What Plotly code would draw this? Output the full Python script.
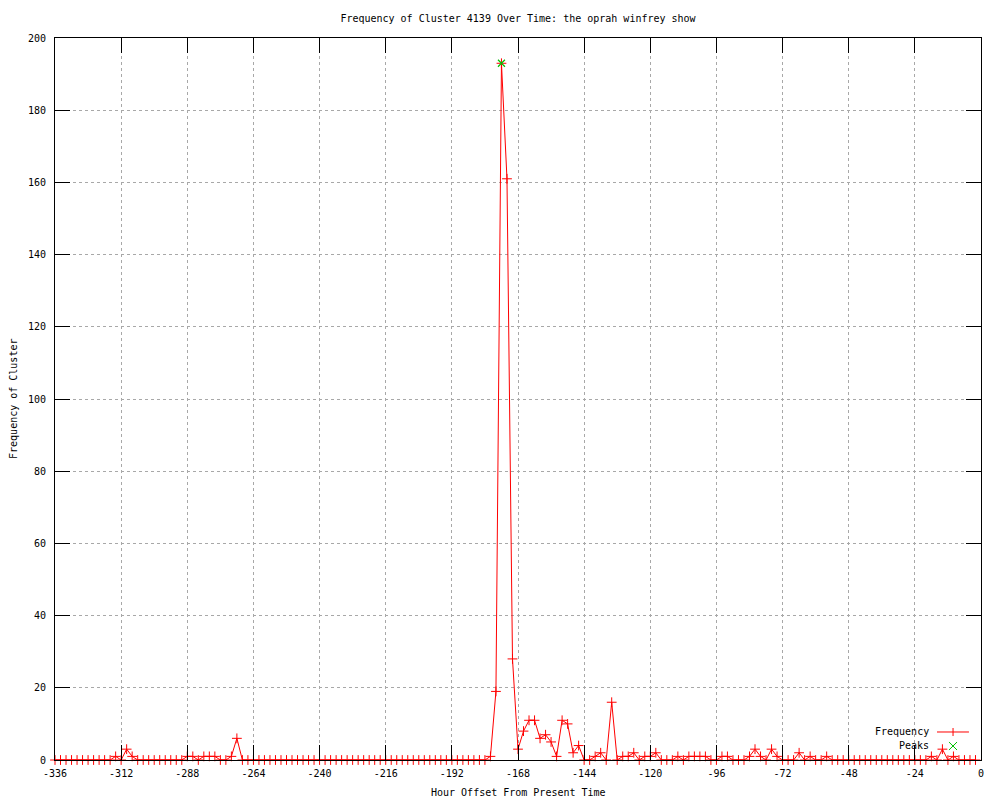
import plotly.graph_objects as go

# Hour offsets (every 2 hours) and cluster frequencies
hours = list(range(-336, 0, 2))
frequency = [
    0, 0, 0, 0, 0, 0, 0, 0, 0, 0, 0, 1,        # -336 .. -314
    0, 3, 1, 0, 0, 0, 0, 0, 0, 0, 0, 0,        # -312 .. -290
    1, 1, 0, 1, 1, 1, 0, 0, 1, 6, 0, 0,        # -288 .. -266
    0, 0, 0, 0, 0, 0, 0, 0, 0, 0, 0, 0,        # -264 .. -242
    0, 0, 0, 0, 0, 0, 0, 0, 0, 0, 0, 0,        # -240 .. -218
    0, 0, 0, 0, 0, 0, 0, 0, 0, 0, 0, 0,        # -216 .. -194
    0, 0, 0, 0, 0, 0, 0, 1, 19, 193, 161, 28,  # -192 .. -170
    3, 8, 11, 11, 6, 7, 5, 1, 11, 10, 2, 4,    # -168 .. -146
    0, 0, 1, 2, 0, 16, 0, 1, 1, 2, 0, 1,       # -144 .. -122
    1, 2, 0, 0, 0, 1, 0, 1, 1, 1, 1, 0,        # -120 .. -98
    0, 1, 1, 0, 0, 0, 1, 3, 1, 0, 3, 1,        # -96 .. -74
    0, 0, 0, 2, 0, 1, 0, 0, 1, 0, 0, 0,        # -72 .. -50
    0, 0, 0, 0, 0, 0, 0, 0, 0, 0, 0, 0,        # -48 .. -26
    0, 0, 0, 1, 0, 3, 0, 1, 0, 0, 0, 0,        # -24 .. -2
]
peak_hours = [-174]
peak_values = [193]

x_ticks = [-336, -312, -288, -264, -240, -216, -192, -168, -144, -120, -96, -72, -48, -24, 0]
y_ticks = [0, 20, 40, 60, 80, 100, 120, 140, 160, 180, 200]

FONT = "DejaVu Sans Mono"
RED = "#ff0000"
GREEN = "#00c000"

fig = go.Figure()
fig.add_trace(go.Scatter(
    x=hours, y=frequency, mode="lines+markers", name="Frequency",
    line=dict(color=RED, width=1),
    marker=dict(symbol="cross-thin-open", size=7, color=RED, line=dict(color=RED, width=1)),
    cliponaxis=False,
))
fig.add_trace(go.Scatter(
    x=peak_hours, y=peak_values, mode="markers", name="Peaks",
    marker=dict(symbol="x-thin-open", size=7, color=GREEN, line=dict(color=GREEN, width=1.2)),
    cliponaxis=False,
))

axis_common = dict(
    showline=True, linecolor="black", linewidth=1, mirror="ticks",
    ticks="inside", ticklen=15, tickcolor="black", tickwidth=1,
    showgrid=True, gridcolor="#a8a8a8", griddash="dot", gridwidth=1,
    zeroline=False, tickfont=dict(family=FONT, size=10, color="black"),
)

fig.update_xaxes(range=[-336, 0], tickvals=x_ticks, ticktext=[str(v) for v in x_ticks],
                 ticklabelstandoff=4, **axis_common)
fig.update_yaxes(range=[0, 200], tickvals=y_ticks, ticktext=[str(v) for v in y_ticks],
                 ticklabelstandoff=6, **axis_common)

# Legend drawn gnuplot-style (text left of sample)
legend_shapes = [
    dict(type="line", xref="paper", yref="paper", x0=0.9525, x1=0.987, y0=0.0388, y1=0.0388,
         line=dict(color=RED, width=1)),
    dict(type="line", xref="paper", yref="paper", x0=0.9698, x1=0.9698, y0=0.0332, y1=0.0443,
         line=dict(color=RED, width=1)),
    dict(type="line", xref="paper", yref="paper", x0=0.9654, x1=0.9741, y0=0.0249, y1=0.01385,
         line=dict(color=GREEN, width=1)),
    dict(type="line", xref="paper", yref="paper", x0=0.9654, x1=0.9741, y0=0.01385, y1=0.0249,
         line=dict(color=GREEN, width=1)),
]

annotations = [
    dict(text="Frequency", xref="paper", yref="paper", x=0.9455, y=0.0388,
         xanchor="right", yanchor="middle", showarrow=False,
         font=dict(family=FONT, size=10, color="black")),
    dict(text="Peaks", xref="paper", yref="paper", x=0.9455, y=0.0194,
         xanchor="right", yanchor="middle", showarrow=False,
         font=dict(family=FONT, size=10, color="black")),
    dict(text="Hour Offset From Present Time", xref="paper", yref="paper", x=0.5, y=-0.0457,
         xanchor="center", yanchor="middle", showarrow=False,
         font=dict(family=FONT, size=10, color="black")),
    dict(text="Frequency of Cluster", xref="paper", yref="paper", x=-0.0454, y=0.5,
         xanchor="center", yanchor="middle", showarrow=False, textangle=-90,
         font=dict(family=FONT, size=10, color="black")),
]

fig.update_layout(
    width=1000, height=800,
    margin=dict(l=55, r=19, t=38, b=40),
    paper_bgcolor="white", plot_bgcolor="white",
    showlegend=False,
    title=dict(text="Frequency of Cluster 4139 Over Time: the oprah winfrey show",
               x=0.5, xref="paper", xanchor="center", y=1 - 18 / 800, yref="container",
               yanchor="middle", font=dict(family=FONT, size=10, color="black")),
    shapes=legend_shapes,
    annotations=annotations,
)

fig.write_html(
    "out.html",
    config={"displayModeBar": False},
    post_script="document.body.style.margin='0';document.body.style.overflow='hidden';",
)
